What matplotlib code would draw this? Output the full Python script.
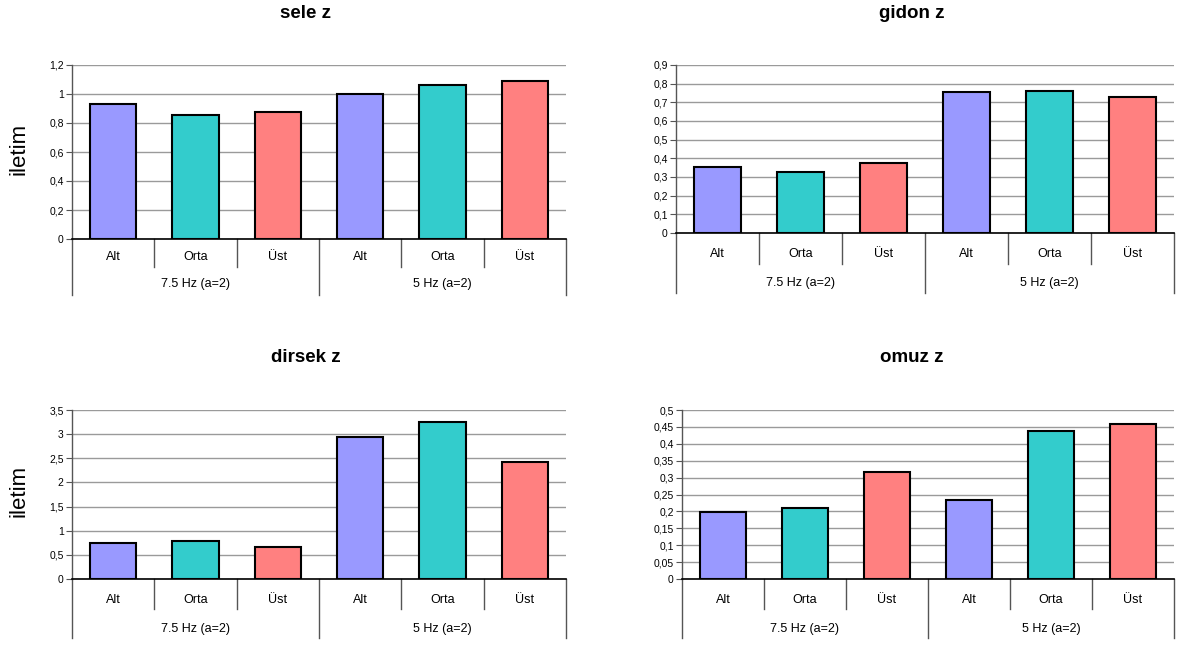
import matplotlib

matplotlib.use("Agg")
import matplotlib.pyplot as plt
from matplotlib.ticker import FuncFormatter, MultipleLocator

plt.rcParams["font.family"] = ["Liberation Sans", "DejaVu Sans"]

# categories
levels = ["Alt", "Orta", "Üst"]
groups = ["7.5 Hz (a=2)", "5 Hz (a=2)"]
bar_colors = ["#9999FF", "#33CCCC", "#FF8080"]

# values (7.5 Hz Alt/Orta/Üst, then 5 Hz Alt/Orta/Üst)
sele_z = [0.932, 0.852, 0.877, 0.997, 1.062, 1.087]
gidon_z = [0.351, 0.326, 0.374, 0.758, 0.762, 0.728]
dirsek_z = [0.748, 0.783, 0.665, 2.938, 3.243, 2.432]
omuz_z = [0.198, 0.211, 0.318, 0.233, 0.437, 0.460]

W, H = 1178, 645

# layout in pixels: axes box (left, top, right, bottom), category row depth,
# group row depth, category label depth, group label depth, title centre
panels = [
    dict(title="sele z", values=sele_z, ymax=1.2, step=0.2,
         box=(72, 65, 566, 239), rows=(28, 56, 18, 45), tpos=(306, 14), ylabel=True),
    dict(title="gidon z", values=gidon_z, ymax=0.9, step=0.1,
         box=(676, 65, 1174, 233), rows=(31, 60, 21, 50), tpos=(912, 14), ylabel=False),
    dict(title="dirsek z", values=dirsek_z, ymax=3.5, step=0.5,
         box=(72, 410, 566, 579), rows=(30, 59, 21, 50), tpos=(306, 358), ylabel=True),
    dict(title="omuz z", values=omuz_z, ymax=0.5, step=0.05,
         box=(682, 410, 1174, 579), rows=(30, 59, 21, 50), tpos=(912, 358), ylabel=False),
]


def comma_fmt(v, _pos):
    return f"{round(v, 3):g}".replace(".", ",")


fig = plt.figure(figsize=(W / 100, H / 100), dpi=100)

for p in panels:
    left, top, right, bottom = p["box"]
    h_px = bottom - top
    ax = fig.add_axes([left / W, 1 - bottom / H, (right - left) / W, h_px / H])

    labels = levels * len(groups)
    x = [i + 0.5 for i in range(len(labels))]
    ax.bar(x, p["values"], width=0.56, color=bar_colors * len(groups),
           edgecolor="black", linewidth=1.5, zorder=3)

    ax.set_xlim(0, len(labels))
    ax.set_ylim(0, p["ymax"])
    ax.yaxis.set_major_locator(MultipleLocator(p["step"]))
    ax.yaxis.set_major_formatter(FuncFormatter(comma_fmt))
    ax.set_xticks([])
    ax.tick_params(axis="y", direction="out", length=4, width=0.8,
                   color="#555555", labelsize=7.5, pad=2)
    ax.yaxis.grid(True, color="#9a9a9a", linewidth=1)
    ax.set_axisbelow(True)

    for side in ("top", "right"):
        ax.spines[side].set_visible(False)
    ax.spines["left"].set_color("#555555")
    ax.spines["left"].set_linewidth(1)
    ax.spines["bottom"].set_color("black")
    ax.spines["bottom"].set_linewidth(1.2)
    ax.spines["bottom"].set_zorder(4)

    cat_d, grp_d, cat_lab, grp_lab = (r / h_px for r in p["rows"])
    trans = ax.get_xaxis_transform()
    n_per = len(levels)
    for i in range(len(labels) + 1):
        depth = grp_d if i % n_per == 0 else cat_d
        ax.plot([i, i], [0, -depth], transform=trans, color="#555555",
                linewidth=1, clip_on=False)
    for i, lab in enumerate(labels):
        ax.text(i + 0.5, -cat_lab, lab, transform=trans, ha="center",
                va="center", fontsize=9)
    for g, name in enumerate(groups):
        ax.text(g * n_per + n_per / 2, -grp_lab, name, transform=trans,
                ha="center", va="center", fontsize=9)

    fig.text(p["tpos"][0] / W, 1 - p["tpos"][1] / H, p["title"], ha="center",
             va="center", fontsize=13.5, fontweight="bold")
    if p["ylabel"]:
        fig.text(19 / W, 1 - (top + h_px * 0.48) / H, "iletim", rotation=90,
                 ha="center", va="center", fontsize=16)

fig.savefig("out.png", dpi=100)
